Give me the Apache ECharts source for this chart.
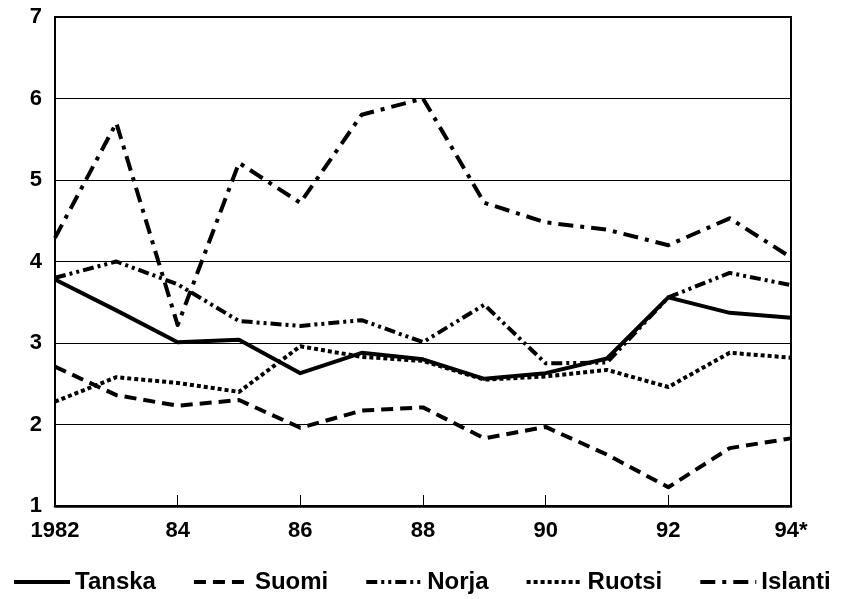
<!DOCTYPE html>
<html>
<head>
<meta charset="utf-8">
<title>Pohjoismaat 1982-94</title>
<script src="https://cdn.jsdelivr.net/npm/echarts@6/dist/echarts.min.js"></script>
<style>
    html, body { margin: 0; padding: 0; background: #fff; }
    #chartView { width: 842px; height: 599px; }
</style>
</head>
<body>
<div id="chartView"></div>
<script>
//x轴(年份)
var arrVuosi = ['1982', '83', '84', '85', '86', '87', '88', '89', '90', '91', '92', '93', '94*'];

//各国数据
var arrTanska = [3.78, 3.40, 3.01, 3.04, 2.63, 2.88, 2.80, 2.56, 2.63, 2.81, 3.56, 3.37, 3.31];
var arrSuomi = [2.71, 2.36, 2.23, 2.30, 1.96, 2.17, 2.21, 1.83, 1.97, 1.63, 1.23, 1.71, 1.83];
var arrNorja = [3.80, 4.00, 3.72, 3.27, 3.21, 3.28, 3.01, 3.47, 2.75, 2.76, 3.56, 3.86, 3.71];
var arrRuotsi = [2.28, 2.58, 2.51, 2.40, 2.96, 2.83, 2.78, 2.55, 2.59, 2.67, 2.46, 2.88, 2.82];
var arrIslanti = [4.29, 5.70, 3.22, 5.21, 4.72, 5.80, 6.00, 4.72, 4.48, 4.39, 4.20, 4.53, 4.05];

var fontName = 'Liberation Sans, Arial, sans-serif';

function makeSeries(name, data, dash, width) {
    return {
        name: name,
        type: 'line',
        data: data,
        symbol: 'none',
        color: '#000',
        itemStyle: { color: '#000' },
        lineStyle: {
            color: '#000',
            width: width,
            type: dash,
            cap: 'butt',
            join: 'round'
        }
    };
}

function getOption() {
    var option = {
        animation: false,
        backgroundColor: '#fff',
        color: ['#000'],
        grid: {
            left: 55,
            right: 51,
            top: 17,
            bottom: 93,
            show: true,
            borderColor: '#000',
            borderWidth: 2,
            backgroundColor: 'transparent'
        },
        legend: {
            left: 12,
            top: 570,
            width: 830,
            padding: 0,
            itemWidth: 56,
            itemHeight: 14,
            itemGap: 36,
            data: ['Tanska', 'Suomi', 'Norja', 'Ruotsi', 'Islanti'],
            itemStyle: { opacity: 0 },
            lineStyle: { width: 4 },
            textStyle: {
                fontFamily: fontName,
                fontWeight: 'bold',
                fontSize: 24,
                color: '#000'
            }
        },
        xAxis: {
            type: 'category',
            data: arrVuosi,
            boundaryGap: false,
            axisLine: { lineStyle: { color: '#000', width: 2.5 } },
            axisTick: {
                inside: true,
                length: 11,
                interval: 1,
                lineStyle: { color: '#000', width: 1 }
            },
            axisLabel: {
                interval: 1,
                margin: 14,
                fontFamily: fontName,
                fontWeight: 'bold',
                fontSize: 22,
                color: '#000'
            },
            splitLine: { show: false }
        },
        yAxis: {
            type: 'value',
            min: 1,
            max: 7,
            interval: 1,
            axisLine: { show: true, lineStyle: { color: '#000', width: 2 } },
            axisTick: { show: false },
            axisLabel: {
                margin: 13,
                fontFamily: fontName,
                fontWeight: 'bold',
                fontSize: 22,
                color: '#000'
            },
            splitLine: { lineStyle: { color: '#000', width: 1 } }
        },
        series: [
            makeSeries('Tanska', arrTanska, 'solid', 4),
            makeSeries('Suomi', arrSuomi, [12, 7], 4),
            makeSeries('Norja', arrNorja, [11, 4, 3, 4, 3, 4], 4),
            makeSeries('Ruotsi', arrRuotsi, [4, 3], 4),
            makeSeries('Islanti', arrIslanti, [15, 7, 4, 7], 4)
        ]
    };
    return option;
}

var myChart = echarts.init(document.getElementById('chartView'));
myChart.setOption(getOption());
</script>
</body>
</html>
